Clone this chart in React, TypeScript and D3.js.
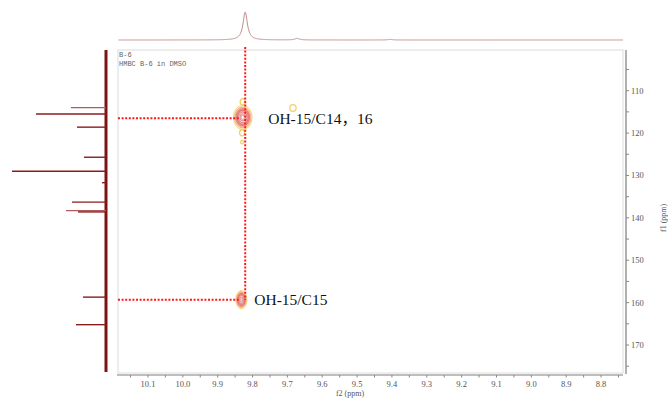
import React from "react";
import * as d3 from "d3";

// ---- data ----
const f2Domain: [number, number] = [10.186, 8.737];
const f1Domain: [number, number] = [100.4, 176.6];
const f2Ticks = [10.1, 10.0, 9.9, 9.8, 9.7, 9.6, 9.5, 9.4, 9.3, 9.2, 9.1, 9.0, 8.9, 8.8];
const f1Ticks = [110, 120, 130, 140, 150, 160, 170];

// 1H projection (top)
const protonShifts = [9.821, 9.672, 9.405];
const protonHeights = [28, 1.6, 0.6];
const protonHalfWidth = 0.0075;

// 13C projection (left)
const carbonShifts = [114.0, 115.5, 118.6, 125.7, 129.0, 131.7, 136.3, 138.3, 138.6, 158.7, 165.2];
const carbonIntensities = [35, 70, 29, 22, 94, 4, 34, 40, 28, 23, 30];

// cross peaks (HMBC)
const peakF2 = [9.828, 9.832, 9.828, 9.830, 9.830, 9.684];
const peakF1 = [116.3, 159.3, 112.6, 119.9, 122.1, 114.1];
const peakHalfW2 = [0.027, 0.016, 0.0075, 0.007, 0.004, 0.009];
const peakHalfW1 = [2.85, 2.15, 0.75, 0.75, 0.45, 0.8];
const peakLevels = [7, 6, 1, 1, 1, 1];

// correlation annotations
const corrLabels = ["OH-15/C14，16", "OH-15/C15"];
const corrF1 = [116.5, 159.3];
const corrF2Label = [9.755, 9.795];
const guideF2 = 9.821;

const titleLines = ["B-6", "HMBC B-6 in DMSO"];

export default function App() {
  const W = 668, H = 399;
  const left = 118, right = 623, top = 50, bottom = 373;
  const x = d3.scaleLinear().domain(f2Domain).range([left, right]);
  const y = d3.scaleLinear().domain(f1Domain).range([top, bottom]);

  // top projection
  const yTop = d3.scaleLinear().domain([0, 30]).range([40, 10]);
  const pts = d3.range(f2Domain[1], f2Domain[0], 0.001).map((p) => {
    let v = 0;
    protonShifts.forEach((s, i) => {
      const d = (p - s) / protonHalfWidth;
      v += protonHeights[i] / (1 + d * d);
    });
    return [p, v] as [number, number];
  });
  const topLine = d3
    .line<[number, number]>()
    .x((d) => x(d[0]))
    .y((d) => yTop(d[1]))(pts.slice().reverse());

  // left projection
  const xLeft = d3.scaleLinear().domain([0, 100]).range([106, 6]);

  const ringFill = ["#fdf1d2", "#f9c9a8", "#ee9494", "#f4b4b4", "#fbdcdc", "#f7c0c0", "#ffffff"];
  const ringStroke = ["#f3cf66", "#f0a878", "#e07474", "#e36b6b", "#e47c7c", "#e08888", "#e8a0a0"];
  const ringScale = [1.0, 0.86, 0.72, 0.58, 0.44, 0.3, 0.16];

  const minorF2 = d3.range(10.15, 8.74, -0.05).map((v) => +v.toFixed(2));
  const minorF1 = d3.range(105, 176, 5);

  const serif = "'Liberation Serif', 'Times New Roman', serif";

  return (
    <svg
      width={W}
      height={H}
      style={{ position: "absolute", left: 0, top: 0, background: "#fff" }}
    >
      {/* top 1D */}
      <path d={topLine || ""} fill="none" stroke="#c48a8a" strokeWidth={1} />

      {/* left 1D */}
      <line x1={106} x2={106} y1={50} y2={372} stroke="#7c1414" strokeWidth={3} />
      {carbonShifts.map((s, i) => (
        <line
          key={i}
          x1={xLeft(0)}
          x2={xLeft(carbonIntensities[i])}
          y1={y(s)}
          y2={y(s)}
          stroke={i === 0 || i === 7 ? "#b25a5a" : "#8a1c1c"}
          strokeWidth={1.4}
        />
      ))}

      {/* frame */}
      <rect x={left} y={top} width={right - left} height={bottom - top} fill="none" stroke="#dcdcdc" strokeWidth={1} />

      {/* title */}
      {titleLines.map((t, i) => (
        <text key={i} x={119} y={57 + i * 8.5} fontSize={7} fontFamily="'Liberation Mono', monospace" fill="#666">
          {t}
        </text>
      ))}

      {/* bottom axis */}
      <line x1={117} x2={623} y1={375} y2={375} stroke="#a8a8a8" strokeWidth={1.6} />
      {minorF2.map((t, i) => (
        <line key={"m" + i} x1={x(t)} x2={x(t)} y1={375} y2={377.5} stroke="#888" strokeWidth={1} />
      ))}
      {f2Ticks.map((t, i) => (
        <text key={i} x={x(t)} y={387} fontSize={8.5} fontFamily={serif} fill="#555" textAnchor="middle">
          {t.toFixed(1)}
        </text>
      ))}
      <text x={350} y={396} fontSize={8} fontFamily={serif} fill="#555" textAnchor="middle">
        f2 (ppm)
      </text>

      {/* right axis */}
      <line x1={626} x2={626} y1={50} y2={374} stroke="#a8a8a8" strokeWidth={1.8} />
      {minorF1.map((t, i) => (
        <line key={"n" + i} x1={626} x2={629} y1={y(t)} y2={y(t)} stroke="#888" strokeWidth={1} />
      ))}
      {f1Ticks.map((t, i) => (
        <text key={i} x={631} y={y(t) + 3} fontSize={8.5} fontFamily={serif} fill="#555">
          {t}
        </text>
      ))}
      <text
        transform={`translate(666,${y(140)}) rotate(-90)`}
        fontSize={8}
        fontFamily={serif}
        fill="#555"
        textAnchor="middle"
      >
        f1 (ppm)
      </text>

      {/* cross peaks */}
      {peakF2.map((p, i) => {
        const cx = x(p), cy = y(peakF1[i]);
        const rx = Math.abs(x(p + peakHalfW2[i]) - cx);
        const ry = Math.abs(y(peakF1[i] + peakHalfW1[i]) - cy);
        const n = peakLevels[i];
        return (
          <g key={i}>
            {ringScale.slice(0, n).map((k, j) => (
              <ellipse
                key={j}
                cx={cx}
                cy={cy}
                rx={rx * k}
                ry={ry * k}
                fill={n === 1 ? "none" : ringFill[j]}
                stroke={ringStroke[j]}
                strokeWidth={n === 1 ? 1.3 : 0.9}
              />
            ))}
          </g>
        );
      })}

      {/* guide lines */}
      <line x1={x(guideF2)} x2={x(guideF2)} y1={47} y2={y(corrF1[1])} stroke="#ff1a1a" strokeWidth={2} strokeDasharray="2,1.6" />
      {corrF1.map((f, i) => (
        <line key={i} x1={left} x2={x(9.836)} y1={y(f)} y2={y(f)} stroke="#ff1a1a" strokeWidth={2} strokeDasharray="2,1.6" />
      ))}

      {/* labels */}
      {corrLabels.map((t, i) => (
        <text
          key={i}
          x={x(corrF2Label[i])}
          y={y(corrF1[i]) + 5.5}
          fontSize={15.5}
          fontFamily={serif + ", 'Noto Sans CJK SC'"}
          fill="#111"
        >
          {t}
        </text>
      ))}
    </svg>
  );
}
